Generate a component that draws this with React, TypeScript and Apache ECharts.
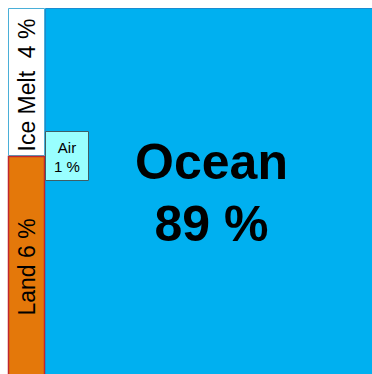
import React, { useEffect, useRef } from "react";
import * as echarts from "echarts";

const categories = ["Ice Melt", "Land", "Air", "Ocean"];
const values = [4, 6, 1, 89];
const labels = ["Ice Melt  4 %", "Land 6 %", "Air\n1 %", "Ocean\n89 %"];
const fills = ["#FFFFFF", "#E4780A", "#99FFFF", "#00B0F0"];
const borders = ["#4AAFD8", "#C0282D", "#3F5F66", "#1A8CD0"];

export default function App() {
  const ref = useRef<HTMLDivElement>(null);
  useEffect(() => {
    document.documentElement.style.overflow = "hidden";
    document.body.style.margin = "0";
    const chart = echarts.init(ref.current!, null, { renderer: "svg" });
    const [ice, land, air, ocean] = values;
    const total = ice + land + air + ocean;
    const leftW = ((ice + land) / total) * 100;
    const iceH = (ice / (ice + land)) * 100;
    // [x0, y0, x1, y1, index]
    const rects = [
      [0, 0, leftW, iceH, 0],
      [0, iceH, leftW, 100, 1],
      [leftW, 0, 100, 100, 3],
      [leftW, iceH, leftW, iceH, 2],
    ];
    chart.setOption({
      animation: false,
      grid: { left: 8, right: 0, top: 8, bottom: 0 },
      xAxis: { type: "value", min: 0, max: 100, show: false },
      yAxis: { type: "value", min: 0, max: 100, inverse: true, show: false },
      series: [
        {
          type: "custom",
          clip: false,
          data: rects,
          encode: { x: [0, 2], y: [1, 3] },
          renderItem: (params: any, api: any) => {
            const idx = api.value(4);
            const p0 = api.coord([api.value(0), api.value(1)]);
            const p1 = api.coord([api.value(2), api.value(3)]);
            const cx = (p0[0] + p1[0]) / 2;
            const cy = (p0[1] + p1[1]) / 2;
            if (categories[idx] === "Air") {
              const w = 43;
              const h = 49;
              return {
                type: "group",
                children: [
                  {
                    type: "rect",
                    shape: { x: p0[0] + 0.5, y: p0[1] - h / 2, width: w, height: h },
                    style: { fill: fills[idx], stroke: borders[idx], lineWidth: 1 },
                  },
                  {
                    type: "text",
                    x: p0[0] + 0.5 + w / 2,
                    y: p0[1] + 0.5,
                    style: {
                      text: labels[idx],
                      align: "center",
                      verticalAlign: "middle",
                      fontFamily: "Liberation Sans, Arial, sans-serif",
                      fontSize: 15,
                      lineHeight: 19,
                      fill: "#000",
                    },
                  },
                ],
              };
            }
            const isLeft = idx === 0 || idx === 1;
            return {
              type: "group",
              children: [
                {
                  type: "rect",
                  shape: {
                    x: p0[0] + 0.5,
                    y: p0[1] + 0.5,
                    width: p1[0] - p0[0] - 1,
                    height: p1[1] - p0[1] - 1,
                  },
                  style: { fill: fills[idx], stroke: borders[idx], lineWidth: idx === 1 ? 1.5 : 1 },
                },
                {
                  type: "text",
                  x: cx,
                  y: idx === 0 ? cy + 3 : cy,
                  rotation: isLeft ? Math.PI / 2 : 0,
                  style: {
                    text: labels[idx],
                    align: "center",
                    verticalAlign: "middle",
                    fontFamily: "Liberation Sans, Arial, sans-serif",
                    fontSize: isLeft ? 23 : 50,
                    fontWeight: isLeft ? "normal" : "bold",
                    lineHeight: isLeft ? 23 : 62,
                    fill: "#000",
                  },
                },
              ],
            };
          },
        },
      ],
    });
    return () => chart.dispose();
  }, []);
  return (
    <div style={{ width: 372, height: 374, overflow: "hidden" }}>
      <div ref={ref} style={{ width: 378, height: 378 }} />
    </div>
  );
}
